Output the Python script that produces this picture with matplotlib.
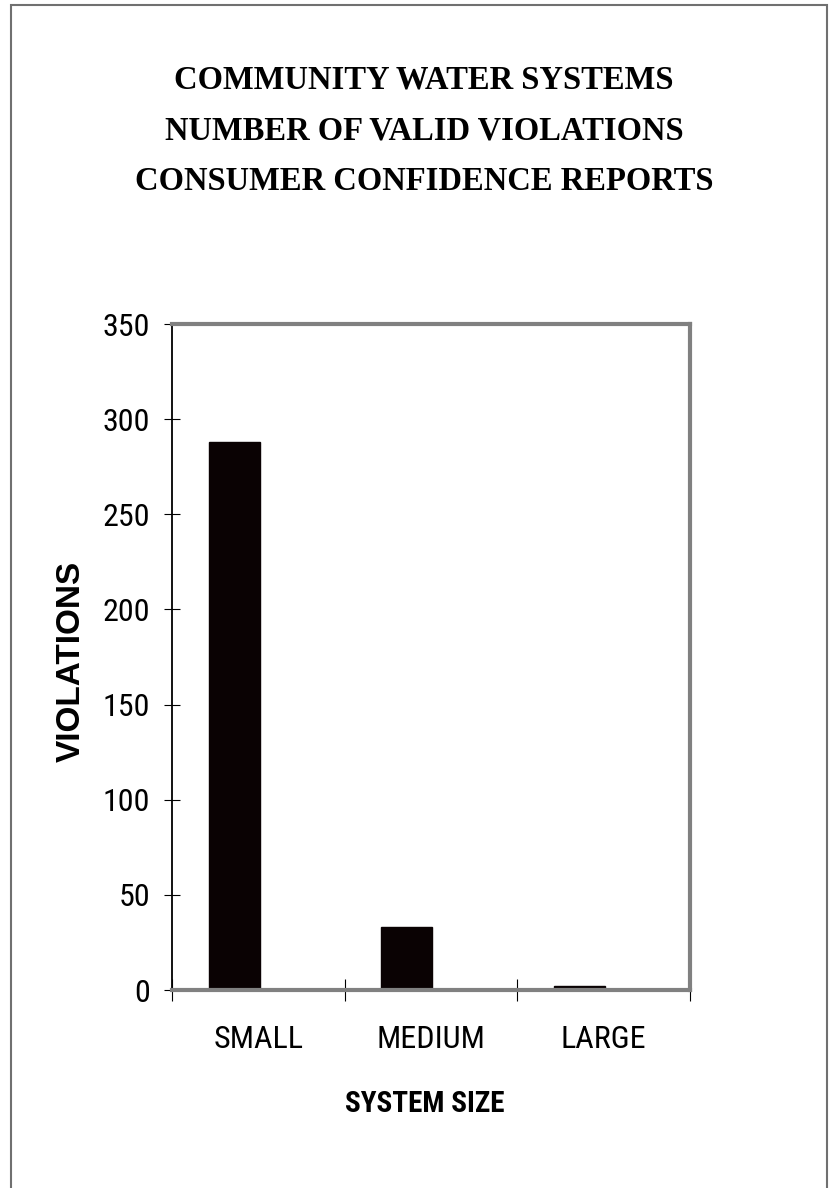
import matplotlib.pyplot as plt
from matplotlib.patches import Rectangle
import numpy as np

# chart data
sizes = ["SMALL", "MEDIUM", "LARGE"]
violations = [288, 33, 2]
yticks = [0, 50, 100, 150, 200, 250, 300, 350]
title_lines = ["COMMUNITY WATER SYSTEMS",
               "NUMBER OF VALID VIOLATIONS",
               "CONSUMER CONFIDENCE REPORTS"]

W, H = 834, 1188
narrow = ["Roboto Condensed", "Liberation Sans", "DejaVu Sans"]

fig = plt.figure(figsize=(W / 100, H / 100), dpi=100)
fig.patch.set_facecolor("white")

# outer frame of the pasted chart (bottom edge is cut off)
fig.add_artist(Rectangle((11 / W, -0.01), 816 / W, 1 - 5 / H + 0.01,
                         transform=fig.transFigure, fill=False,
                         edgecolor="#707070", linewidth=1.5))

# title, one text per line
for i, line in enumerate(title_lines):
    fig.text(424 / W, 1 - (80 + 51 * i) / H, line, ha="center", va="center",
             family=["Liberation Serif", "DejaVu Serif"], fontweight="bold",
             fontsize=23.5)

ax = fig.add_axes([172 / W, 1 - 990 / H, 518 / W, 666 / H])
x = np.arange(len(sizes))
ax.bar(x - 0.14, violations, width=0.296, color="#0a0203", edgecolor="#0a0203")
ax.set_xlim(-0.5, 2.5)
ax.set_ylim(0, 350)
ax.set_yticks(yticks)
ax.set_xticks([-0.5, 0.5, 1.5, 2.5])
ax.set_xticklabels([])
ax.set_xticks(x, minor=True)
ax.set_xticklabels(sizes, minor=True, family=narrow, fontsize=23)
ax.tick_params(axis="x", which="minor", length=0, pad=25)
ax.tick_params(axis="x", which="major", direction="inout", length=16, width=0.8)
ax.tick_params(axis="y", direction="inout", length=11, width=0.8, pad=10)
for lab in ax.get_yticklabels():
    lab.set_family(narrow)
    lab.set_fontsize(23)

ax.spines["left"].set_color("black")
ax.spines["left"].set_linewidth(1.3)
for s in ["top", "right", "bottom"]:
    ax.spines[s].set_color("#808080")
    ax.spines[s].set_linewidth(3)
ax.axhline(0, color="black", linewidth=0.9)

ax.set_ylabel("VIOLATIONS", family=["Liberation Sans", "DejaVu Sans"],
              fontweight="bold", fontsize=24)
ax.yaxis.set_label_coords((87 - 172) / 518, (990 - 661) / 666)
ax.set_xlabel("SYSTEM SIZE", family=narrow, fontweight="bold", fontsize=21)
ax.xaxis.set_label_coords((425 - 172) / 518, (990 - 1090) / 666)

fig.savefig("out.png", dpi=100)
